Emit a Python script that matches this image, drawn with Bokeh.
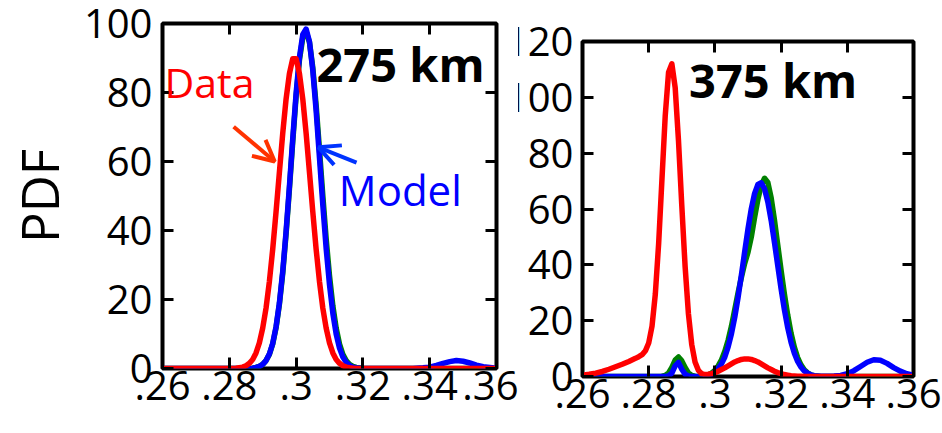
from bokeh.plotting import figure
from bokeh.models import Range1d, LinearAxis, FixedTicker, Label, Arrow, OpenHead
from bokeh.layouts import row
from bokeh.embed import file_html
from bokeh.resources import INLINE

FONT = "Open Sans"

# ---- axes -----------------------------------------------------------------
X_TICKS = [0.26, 0.28, 0.30, 0.32, 0.34, 0.36]
X_TICK_LABELS = [".26", ".28", ".3", ".32", ".34", ".36"]
Y_TICKS_275 = [0, 20, 40, 60, 80, 100]
Y_TICKS_375 = [0, 20, 40, 60, 80, 100, 120]

# ---- 275 km ---------------------------------------------------------------
X_275 = [0.260, 0.265, 0.270, 0.275, 0.280, 0.282, 0.284,
         0.285, 0.286, 0.287, 0.288, 0.289, 0.290, 0.291, 0.292, 0.293, 0.294,
         0.295, 0.296, 0.297, 0.298, 0.299, 0.300, 0.301, 0.302, 0.303, 0.304,
         0.305, 0.306, 0.307, 0.308, 0.309, 0.310, 0.311, 0.312, 0.313, 0.314,
         0.315, 0.316, 0.317, 0.318, 0.320, 0.322, 0.325, 0.330, 0.335,
         0.338, 0.340, 0.342, 0.344, 0.346, 0.348, 0.350, 0.352, 0.354,
         0.356, 0.358, 0.360]

DATA_275 = [0, 0, 0, 0, 0, 0.1, 0.4,
            0.8, 1.5, 2.6, 4.5, 7.4, 11.7, 17.5, 25.2, 34.6, 45.4,
            56.9, 68.2, 78.1, 85.5, 89.8, 89.8, 85.5, 78.1, 68.2, 56.9,
            45.4, 34.6, 25.2, 17.5, 11.7, 7.4, 4.5, 2.6, 1.5, 0.8,
            0.4, 0.2, 0.1, 0, 0, 0, 0, 0, 0,
            0, 0, 0, 0, 0, 0, 0, 0, 0,
            0, 0, 0]

MODEL_275 = [0, 0, 0, 0, 0, 0, 0,
             0, 0, 0.1, 0.3, 0.6, 1.2, 2.3, 4.2, 7.3, 12.1,
             19.0, 28.2, 39.7, 52.8, 66.7, 79.7, 90.2, 96.8, 98.4, 94.7,
             86.4, 74.7, 61.1, 47.4, 34.8, 24.3, 16.0, 10.0, 5.9, 3.3,
             1.8, 0.9, 0.4, 0.2, 0, 0, 0, 0, 0,
             0.2, 0.4, 0.9, 1.5, 2.0, 2.3, 2.1, 1.6, 1.0,
             0.5, 0.3, 0.1]

MODEL2_275 = [0, 0, 0, 0, 0, 0, 0,
              0, 0, 0.1, 0.3, 0.6, 1.2, 2.3, 4.1, 7.1, 11.8,
              18.6, 27.6, 39.0, 52.0, 65.8, 78.8, 89.4, 95.9, 97.6, 94.6,
              87.2, 76.3, 63.4, 50.1, 37.6, 26.9, 18.2, 11.7, 7.1, 4.1,
              2.3, 1.2, 0.6, 0.3, 0.1, 0, 0, 0, 0,
              0, 0, 0, 0, 0, 0, 0, 0, 0,
              0, 0, 0]

# ---- 375 km ---------------------------------------------------------------
X_375 = [0.260, 0.262, 0.264, 0.266, 0.268, 0.270, 0.272, 0.274, 0.276,
         0.277, 0.278, 0.279, 0.280,
         0.281, 0.282, 0.283, 0.284, 0.285, 0.286, 0.287, 0.288, 0.289, 0.290,
         0.291, 0.292, 0.293, 0.294, 0.295, 0.296, 0.297, 0.298, 0.299, 0.300,
         0.301, 0.302, 0.303, 0.304, 0.305, 0.306, 0.307, 0.308, 0.309, 0.310,
         0.311, 0.312, 0.313, 0.314, 0.315, 0.316, 0.317, 0.318, 0.319, 0.320,
         0.321, 0.322, 0.323, 0.324, 0.325, 0.326, 0.327, 0.328, 0.329, 0.330,
         0.332, 0.334, 0.336, 0.338, 0.340, 0.342, 0.344, 0.346, 0.348, 0.350,
         0.352, 0.354, 0.356, 0.358, 0.360]

DATA_375 = [0.5, 0.8, 1.2, 1.8, 2.6, 3.5, 4.4, 5.4, 6.5,
            7.1, 7.8, 9.2, 12.0,
            18.0, 29.5, 47.5, 70.5, 93.5, 109.0, 112.0, 103.5, 84.5, 61.2,
            39.4, 22.5, 11.5, 5.2, 2.2, 1.0, 0.7, 0.8, 1.0, 1.4,
            1.9, 2.5, 3.1, 3.8, 4.5, 5.2, 5.7, 6.1, 6.3, 6.3,
            6.1, 5.7, 5.2, 4.5, 3.8, 3.1, 2.5, 1.9, 1.4, 1.0,
            0.7, 0.5, 0.3, 0.2, 0.1, 0.1, 0, 0, 0, 0,
            0, 0, 0, 0, 0, 0, 0, 0, 0, 0,
            0, 0, 0, 0, 0]

MODEL_375 = [0, 0, 0, 0, 0, 0, 0, 0, 0,
             0, 0, 0, 0,
             0, 0, 0, 0, 0, 0.2, 1.2, 3.8, 5.0, 2.6,
             0.8, 0.2, 0, 0, 0, 0, 0, 0.3, 0.8, 1.6,
             2.8, 4.5, 7.0, 10.6, 15.3, 21.2, 28.3, 36.3, 44.7, 52.9,
             60.1, 65.6, 68.8, 69.4, 67.2, 62.5, 55.9, 48.0, 39.6, 31.4,
             23.9, 17.5, 12.3, 8.3, 5.4, 3.4, 2.0, 1.2, 0.6, 0.3,
             0.1, 0.1, 0.2, 0.4, 1.0, 2.1, 3.6, 5.1, 6.0, 5.8,
             4.7, 3.2, 1.9, 1.0, 0.5]

MODEL2_375 = [0, 0, 0, 0, 0, 0, 0, 0, 0,
              0, 0, 0, 0,
              0, 0, 0, 0.1, 0.4, 1.3, 3.3, 5.9, 7.0, 5.6,
              3.2, 1.3, 0.4, 0.1, 0, 0, 0.2, 0.6, 1.2, 2.2,
              3.8, 6.0, 9.0, 13.0, 18.0, 24.0, 30.0, 35.5, 40.5, 44.5,
              50.0, 57.0, 63.5, 68.5, 71.0, 69.5, 64.0, 56.0, 47.0, 38.0,
              29.5, 22.0, 15.5, 10.5, 6.8, 4.2, 2.4, 1.3, 0.6, 0.3,
              0, 0, 0, 0, 0, 0, 0, 0, 0, 0,
              0, 0, 0, 0, 0]

RED = "#FF0000"
BLUE = "#0000FF"
GREEN = "#008000"
TICK_FONT = "40px"


def panel(width, height, borders, ymax, yticks, x, series):
    left, right, top, bottom = borders
    p = figure(width=width, height=height, output_backend="svg",
               toolbar_location=None, x_range=Range1d(0.26, 0.36),
               y_range=Range1d(0, ymax), min_border_left=left,
               min_border_right=right, min_border_top=top,
               min_border_bottom=bottom, frame_align=False)
    p.grid.visible = False
    p.outline_line_color = "black"
    p.outline_line_width = 4
    p.background_fill_color = "white"
    p.border_fill_color = "white"

    p.xaxis.ticker = FixedTicker(ticks=X_TICKS)
    p.xaxis.major_label_overrides = dict(zip(X_TICKS, X_TICK_LABELS))
    p.yaxis.ticker = FixedTicker(ticks=yticks)

    # mirrored tick marks on the top and right edges, without labels
    top_ax = LinearAxis(ticker=FixedTicker(ticks=X_TICKS))
    right_ax = LinearAxis(ticker=FixedTicker(ticks=yticks))
    p.add_layout(top_ax, "above")
    p.add_layout(right_ax, "right")

    for ax in p.axis:
        ax.axis_line_color = None
        ax.major_tick_in = 11
        ax.major_tick_out = 0
        ax.major_tick_line_width = 3
        ax.major_tick_line_color = "black"
        ax.minor_tick_line_color = None
        ax.major_label_text_font = FONT
        ax.major_label_text_font_size = TICK_FONT
        ax.major_label_text_color = "black"
    for ax in (top_ax, right_ax):
        ax.major_label_text_font_size = "1px"
        ax.major_label_text_color = None
        ax.major_label_standoff = 0
    p.below[0].major_label_standoff = 2
    p.left[0].major_label_standoff = 9

    for ys, color in series:
        p.line(x, ys, line_color=color, line_width=5.5, line_join="round")
    return p


def note(x, y, text, size, color, bold=False):
    return Label(x=x, y=y, text=text, text_font=FONT, text_font_size=size,
                 text_font_style="bold" if bold else "normal",
                 text_color=color, text_baseline="middle", text_align="left")


# left panel: 275 km
W1 = 518
p1 = panel(W1, 433, (153, W1 - 496, 23, 65), 100, Y_TICKS_275, X_275,
           [(MODEL2_275, GREEN), (MODEL_275, BLUE), (DATA_275, RED)])
p1.yaxis[0].axis_label = "PDF"
p1.yaxis[0].axis_label_text_font = FONT
p1.yaxis[0].axis_label_text_font_size = "51px"
p1.yaxis[0].axis_label_text_font_style = "normal"
p1.yaxis[0].axis_label_text_color = "black"
p1.yaxis[0].axis_label_standoff = 7
p1.left[0].major_label_standoff = 10

p1.add_layout(note(0.3061, 88.2, "275 km", "47px", "black", bold=True))
p1.add_layout(note(0.2606, 82.9, "Data", "41px", RED))
p1.add_layout(note(0.3128, 52.0, "Model", "42px", BLUE))
p1.add_layout(Arrow(end=OpenHead(size=21, line_color="#FF3300", line_width=4),
                    x_start=0.2813, y_start=70.1, x_end=0.2936, y_end=60.0,
                    line_color="#FF3300", line_width=4))
p1.add_layout(Arrow(end=OpenHead(size=21, line_color="#0033FF", line_width=4),
                    x_start=0.3181, y_start=59.7, x_end=0.3067, y_end=64.1,
                    line_color="#0033FF", line_width=4))
p1.styles = {"z-index": "1"}

# right panel: 375 km, tucked under the left one
p2 = panel(441, 433, (80, 29, 41, 57), 120, Y_TICKS_375, X_375,
           [(MODEL2_375, GREEN), (MODEL_375, BLUE), (DATA_375, RED)])
p2.add_layout(note(0.2922, 106.1, "375 km", "47px", "black", bold=True))
p2.margin = (0, 0, 0, -(W1 - 501))

layout = row(p1, p2)
open("out.html", "w").write(file_html(layout, INLINE))
